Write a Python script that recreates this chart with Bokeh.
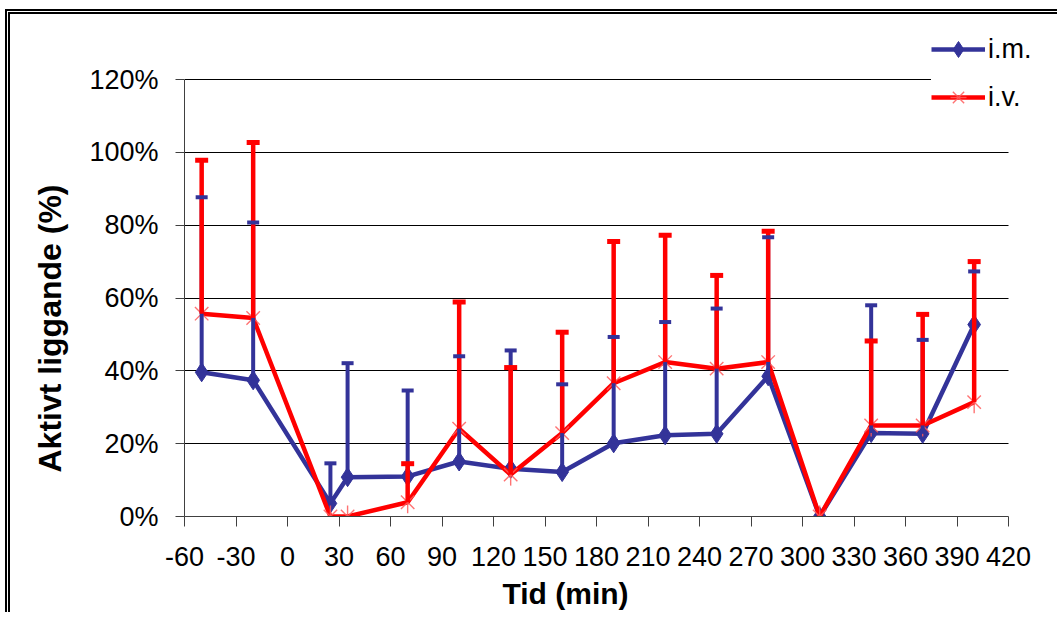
from bokeh.plotting import figure
from bokeh.models import (FixedTicker, PrintfTickFormatter, Range1d, Legend, LegendItem,
                          ColumnDataSource, Title)
from bokeh.embed import file_html
from bokeh.resources import INLINE
import math

# ---- data ----
tid = [-50, -20, 25, 35, 70, 100, 130, 160, 190, 220, 250, 280, 310, 340, 370, 400]
im_mean = [39.6, 37.4, 3.6, 10.8, 11.0, 15.1, 13.1, 12.2, 20.1, 22.3, 22.7, 38.5, 0.0, 22.9, 22.7, 52.7]
im_upper = [87.7, 80.7, 14.6, 42.1, 34.6, 44.0, 45.6, 36.3, 49.3, 53.4, 57.1, 76.7, 0.0, 58.0, 48.5, 67.3]
iv_mean = [55.7, 54.5, 0.0, 0.0, 3.9, 24.1, 11.5, 22.9, 36.6, 42.4, 40.6, 42.4, 0.0, 25.0, 25.0, 31.4]
iv_upper = [97.8, 102.7, 0.0, 0.0, 14.5, 58.9, 40.9, 50.6, 75.5, 77.2, 66.2, 78.3, 0.0, 48.2, 55.5, 70.0]
x_ticks = list(range(-60, 421, 30))
y_ticks = [0, 20, 40, 60, 80, 100, 120]
series_names = ["i.m.", "i.v."]
x_title = "Tid (min)"
y_title = "Aktivt liggande (%)"

X_MIN, X_MAX = -60, 420
Y_MIN, Y_MAX = 0, 120
BLUE = "#333399"
RED = "#ff0000"
FONT = "Liberation Sans"

# the plotting frame is extended to the right and upwards so the legend (which sits
# above/right of the axes in the original) is not clipped; axes/grid are bounded.
x_px = 824 / (X_MAX - X_MIN)
y_px = 437 / (Y_MAX - Y_MIN)
x_end = X_MAX + 42 / x_px
y_end = Y_MAX + 59 / y_px

p = figure(width=1052, height=603, output_backend="svg", toolbar_location=None,
           x_range=Range1d(X_MIN, x_end), y_range=Range1d(Y_MIN, y_end),
           min_border_left=174, min_border_right=12, min_border_top=6, min_border_bottom=101,
           outline_line_color=None,
           styles={"border-left": "5px double black", "border-top": "5px double black",
                   "margin-left": "5px", "margin-top": "9px"})

# axes
p.xaxis.ticker = FixedTicker(ticks=x_ticks)
p.yaxis.ticker = FixedTicker(ticks=y_ticks)
p.xaxis.formatter = PrintfTickFormatter(format="%d")
p.yaxis.formatter = PrintfTickFormatter(format="%d%%")
p.xaxis.bounds = (X_MIN, X_MAX)
p.yaxis.bounds = (Y_MIN, Y_MAX)
for ax in (p.xaxis[0], p.yaxis[0]):
    ax.axis_line_color = "#404040"
    ax.major_tick_line_color = "#404040"
    ax.minor_tick_line_color = None
    ax.major_tick_in = 0
    ax.major_label_text_font = FONT
    ax.major_label_text_font_size = "27px"
    ax.major_label_text_color = "black"
p.xaxis.major_tick_out = 10
p.yaxis.major_tick_out = 9
p.xaxis.major_label_standoff = 20
p.yaxis.major_label_standoff = 17

# axis titles (positioned like the original, not centred on the frame)
p.add_layout(Title(text=y_title, align="left", offset=44, standoff=37,
                   text_font=FONT, text_font_size="32px", text_font_style="bold",
                   text_color="black"), "left")
p.add_layout(Title(text=x_title, align="left", offset=318, standoff=13,
                   text_font=FONT, text_font_size="30px", text_font_style="bold",
                   text_color="black"), "below")

p.xgrid.visible = False
p.ygrid.grid_line_color = "black"
p.ygrid.grid_line_width = 1
p.ygrid.cross_bounds = (X_MIN, X_MAX)

# lines + markers
bl = p.line(tid, im_mean, line_color=BLUE, line_width=4.5, line_join="round")
bm = p.scatter(tid, im_mean, marker="diamond", size=19, fill_color=BLUE, line_color=BLUE)
rl = p.line(tid, iv_mean, line_color=RED, line_width=4.5, line_join="round")
rx = p.scatter(tid, iv_mean, marker="x", size=19, line_color="#ff5a5a", line_alpha=0.85, line_width=1.4)
rv = p.scatter(tid, iv_mean, marker="dash", size=22, angle=math.pi / 2,
               line_color="#ff5a5a", line_alpha=0.85, line_width=1.4)

# error bars (upper only)
def err_src(mean, upper):
    xs, y0, y1 = [], [], []
    for xv, m, u in zip(tid, mean, upper):
        if u > m:
            xs.append(xv); y0.append(m); y1.append(u)
    return ColumnDataSource(dict(x=xs, y0=y0, y1=y1))

bsrc = err_src(im_mean, im_upper)
rsrc = err_src(iv_mean, iv_upper)
p.segment(x0="x", y0="y0", x1="x", y1="y1", source=bsrc, line_color=BLUE, line_width=4)
p.segment(x0="x", y0="y0", x1="x", y1="y1", source=rsrc, line_color=RED, line_width=4.5)
p.scatter(x="x", y="y1", source=bsrc, marker="dash", size=12, line_color=BLUE, line_width=4)
p.scatter(x="x", y="y1", source=rsrc, marker="dash", size=13, line_color=RED, line_width=5)

legend = Legend(items=[LegendItem(label=series_names[0], renderers=[bl, bm]),
                       LegendItem(label=series_names[1], renderers=[rl, rx, rv])],
                location=(747, 399), orientation="vertical",
                label_text_font=FONT, label_text_font_size="27px", label_text_color="black",
                glyph_width=54, glyph_height=40, label_height=40, spacing=8,
                label_standoff=3, padding=10, margin=0,
                border_line_color=None, background_fill_color="white", background_fill_alpha=1.0)
p.add_layout(legend, "center")

open("out.html", "w").write(file_html(p, INLINE))
